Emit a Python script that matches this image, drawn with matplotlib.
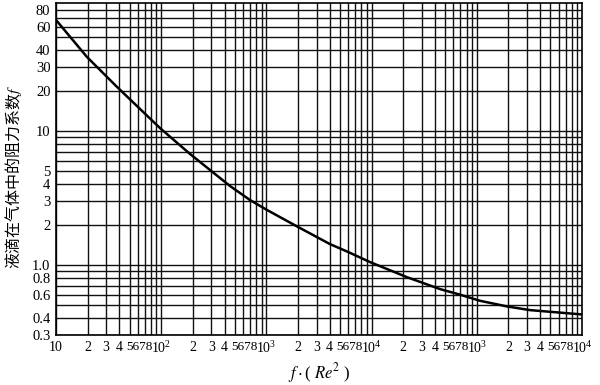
import matplotlib
matplotlib.use('Agg')
import matplotlib.pyplot as plt

plt.rcParams['font.family'] = ['Liberation Serif', 'DejaVu Serif']
plt.rcParams['mathtext.fontset'] = 'stix'

# curve (log-log)
re2 = [10, 19.7, 38, 97.4, 188, 291, 451, 698, 1013, 1997, 4023, 5967, 9656,
       21700, 44700, 69230, 107200, 193700, 320300, 1000000]
drag = [67.3, 35.6, 21.3, 10.5, 6.73, 5.11, 3.88, 3.05, 2.57, 1.92, 1.43, 1.25, 1.05,
        0.81, 0.66, 0.60, 0.54, 0.49, 0.46, 0.427]

x_ticks = [10, 20, 30, 40, 62, 100, 200, 300, 400, 620, 1e3, 2e3, 3e3, 4e3, 6.2e3,
           1e4, 2e4, 3e4, 4e4, 6.2e4, 1e5, 2e5, 3e5, 4e5, 6.2e5, 1e6]
x_labels = ['10', '2', '3', '4', '5678',
            r'$\mathregular{10^2}$', '2', '3', '4', '5678',
            r'$\mathregular{10^3}$', '2', '3', '4', '5678',
            r'$\mathregular{10^4}$', '2', '3', '4', '5678',
            r'$\mathregular{10^3}$', '2', '3', '4', '5678',
            r'$\mathregular{10^4}$']
y_ticks = [0.3, 0.4, 0.6, 0.8, 1.0, 2, 3, 4, 5, 10, 20, 30, 40, 60, 80]
y_labels = ['0.3', '0.4', '0.6', '0.8', '1.0', '2', '3', '4', '5',
            '10', '20', '30', '40', '60', '80']

fig = plt.figure(figsize=(6, 3.85), dpi=100)
ax = fig.add_axes([0.0933, 0.1299, 0.8767, 0.8623])
ax.set_xscale('log')
ax.set_yscale('log')
ax.set_xlim(10, 1e6)
ax.set_ylim(0.3, 90)

# grid lines at every 1..9 of each decade
for d in [10, 100, 1e3, 1e4, 1e5]:
    for k in range(1, 10):
        ax.axvline(k * d, color='#111111', lw=1.0, zorder=1)
for d in [0.1, 1, 10]:
    for k in range(1, 10):
        v = k * d
        if 0.3 <= v <= 85:
            ax.axhline(v, color='#111111', lw=1.0, zorder=1)

ax.plot(re2, drag, color='black', lw=1.8, zorder=3)

ax.xaxis.set_major_locator(matplotlib.ticker.FixedLocator(x_ticks))
ax.xaxis.set_minor_locator(matplotlib.ticker.NullLocator())
ax.set_xticklabels(x_labels)
ax.yaxis.set_major_locator(matplotlib.ticker.FixedLocator(y_ticks))
ax.yaxis.set_minor_locator(matplotlib.ticker.NullLocator())
ax.set_yticklabels(y_labels)
ax.tick_params(axis='x', length=0, labelsize=10, pad=4)
ax.tick_params(axis='y', length=0, labelsize=10.5, pad=4)
for lbl in ax.get_xticklabels():
    if lbl.get_text() == '5678':
        lbl.set_fontsize(9.5)

for s in ax.spines.values():
    s.set_linewidth(1.2)
    s.set_color('black')

ax.set_xlabel(r'$f\cdot$( $Re^{2}$ )', fontsize=12, labelpad=3)
fig.text(0.022, 0.54, '液滴在气体中的阻力系数$f$', rotation=90,
         ha='center', va='center', fontsize=11.5,
         family=['Noto Sans CJK SC', 'DejaVu Sans'])

plt.savefig('out.png', dpi=100)
